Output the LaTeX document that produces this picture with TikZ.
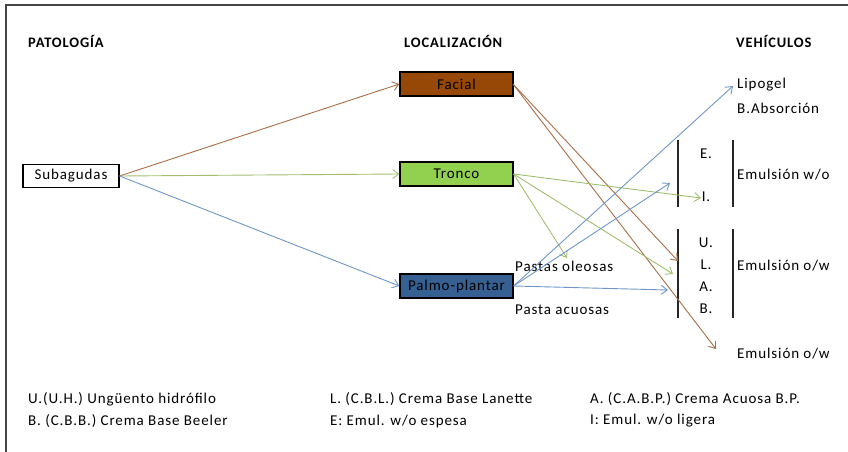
\documentclass[tikz,border=0pt]{standalone}
\usepackage{fontspec}
\setmainfont[LetterSpace=6]{Carlito}
\usetikzlibrary{arrows.meta}
\definecolor{boxbrown}{RGB}{151,71,6}
\definecolor{boxgreen}{RGB}{146,208,80}
\definecolor{boxblue}{RGB}{54,96,146}
\definecolor{lnbrown}{RGB}{170,110,72}
\definecolor{lngreen}{RGB}{160,190,110}
\definecolor{lnblue}{RGB}{110,150,200}
\definecolor{framegray}{RGB}{70,70,70}
\begin{document}
\begin{tikzpicture}[x=1pt,y=-1pt,
  every node/.style={font=\fontsize{15}{17}\selectfont, inner sep=0pt},
  title/.style={anchor=west, font=\fontsize{14.5}{17}\selectfont\bfseries},
  lbl/.style={anchor=west},
  legend/.style={anchor=west, font=\fontsize{15}{17}\selectfont},
  locbox/.style={draw=black, line width=1.2pt, minimum width=113pt, minimum height=24pt},
  conn/.style={-{Straight Barb[length=6pt,width=9pt]}, line width=0.9pt},
  bar/.style={draw=black!85, line width=1.4pt}]
\useasboundingbox (0,0) rectangle (848,452);
% frame edges
\draw[framegray, line width=1.5pt] (848,5) -- (6,5) -- (6,452);

% column headings
\node[title] (hpat) at (28,41) {PATOLOGÍA};
\node[title] (hloc) at (404,41) {LOCALIZACIÓN};
\node[title] (hveh) at (736,41) {VEHÍCULOS};

% pathology
\node[draw=black, line width=1.2pt, minimum width=96pt, minimum height=23pt] (sub) at (71,176) {Subagudas};

% localisation boxes
\node[locbox, fill=boxbrown] (fac) at (456.5,84) {Facial};
\node[locbox, fill=boxgreen] (tro) at (456.5,174) {Tronco};
\node[locbox, fill=boxblue] (pal) at (456.5,286) {Palmo-plantar};

% vehicles
\node[lbl] (lipo) at (737,85) {Lipogel};
\node[lbl] (babs) at (737,108) {B.Absorción};
\node (E) at (706,154) {E.};
\node (I) at (706,197) {I.};
\node[lbl] (ewo) at (737,175) {Emulsión w/o};
\node (U) at (706,243) {U.};
\node (L) at (706,265) {L.};
\node (A) at (706,287) {A.};
\node (B) at (706,309) {B.};
\node[lbl] (eow) at (737,266) {Emulsión o/w};
\node[lbl] (eow2) at (737,354) {Emulsión o/w};
\node[lbl] (pole) at (515,266) {Pastas oleosas};
\node[lbl] (pacu) at (515,310) {Pasta acuosas};

% group bars
\draw[bar] (678,140) -- (678,207);
\draw[bar] (733,140) -- (733,207);
\draw[bar] (678,229) -- (678,318);
\draw[bar] (733,229) -- (733,318);

% arrow end points
\coordinate (tLipo) at (733,86);
\coordinate (tE) at (670,183);
\coordinate (tI) at (701,198);
\coordinate (tUL) at (678,261);
\coordinate (tLA) at (673,274);
\coordinate (tA) at (668,290);
\coordinate (tPole) at (567,258);
\coordinate (tEow) at (716,349);
\coordinate (sFac) at (513,84);

% pathology to localisation
\draw[conn, lnbrown] (sub.east) -- (fac.west);
\draw[conn, lngreen] (sub.east) -- (tro.west);
\draw[conn, lnblue] (sub.east) -- (pal.west);

% facial
\draw[conn, lnbrown] (sFac) -- (tUL);
\draw[conn, lnbrown] (sFac) -- (tEow);
% tronco
\draw[conn, lngreen] (tro.east) -- (tI);
\draw[conn, lngreen] (tro.east) -- (tPole);
\draw[conn, lngreen] (tro.east) -- (tLA);
% palmo-plantar
\draw[conn, lnblue] (pal.east) -- (tLipo);
\draw[conn, lnblue] (pal.east) -- (tE);
\draw[conn, lnblue] (pal.east) -- (tA);

% legend
\node[legend] (l1) at (28,399) {U.(U.H.) Ungüento hidrófilo};
\node[legend] (l2) at (330,399) {L. (C.B.L.) Crema Base Lanette};
\node[legend] (l3) at (590,399) {A. (C.A.B.P.) Crema Acuosa B.P.};
\node[legend] (l4) at (28,421) {B. (C.B.B.) Crema Base Beeler};
\node[legend] (l5) at (330,421) {E: Emul. w/o espesa};
\node[legend] (l6) at (590,421) {I: Emul. w/o ligera};
\end{tikzpicture}
\end{document}
